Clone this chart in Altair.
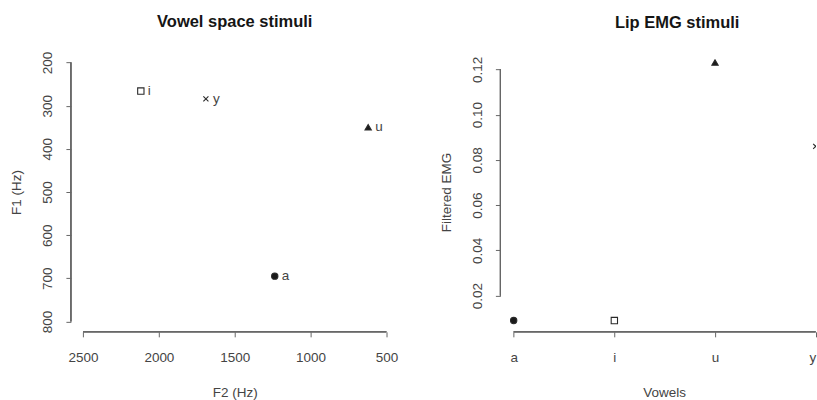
import altair as alt
import pandas as pd

# ---------------- data ----------------
vowels = ["a", "i", "u", "y"]
f2_hz = [1236, 2119, 620, 1690]
f1_hz = [695, 266, 350, 284]
filtered_emg = [0.009, 0.009, 0.123, 0.086]

f2_ticks = [2500, 2000, 1500, 1000, 500]
f1_ticks = [200, 300, 400, 500, 600, 700, 800]
emg_ticks = [0.02, 0.04, 0.06, 0.08, 0.10, 0.12]

marker_shapes = ["circle", "square", "triangle-up",
                 "M-0.8,-0.8L0.8,0.8M-0.8,0.8L0.8,-0.8"]
marker_fills = ["#1a1a1a", "transparent", "#1a1a1a", "transparent"]

df = pd.DataFrame({
    "vowel": vowels,
    "F2": f2_hz,
    "F1": f1_hz,
    "EMG": filtered_emg,
    "idx": list(range(1, len(vowels) + 1)),
})

# ---------------- style ----------------
FONT = "Liberation Sans"
TXT = "#444444"
AX = "#666666"
MK = "#2a2a2a"
W1, W2, H = 328, 316, 280

axis_common = dict(domain=False, grid=False, ticks=True, tickSize=5, tickColor=AX,
                   tickWidth=1, labelFont=FONT, labelFontSize=13.5, labelColor=TXT,
                   titleFont=FONT, titleFontSize=13.5, titleColor=TXT,
                   titleFontWeight="normal", labelOverlap=False)

shape_enc = alt.Shape("vowel:N", scale=alt.Scale(domain=vowels, range=marker_shapes), legend=None)
fill_enc = alt.Fill("vowel:N", scale=alt.Scale(domain=vowels, range=marker_fills), legend=None)

# ---------------- left panel ----------------
xs1 = alt.Scale(domain=[420, 2580], reverse=True, nice=False, zero=False)
ys1 = alt.Scale(domain=[176, 824], reverse=True, nice=False, zero=False)

x_axis1 = alt.Axis(values=f2_ticks, format="d", labelPadding=14, title="F2 (Hz)",
                   titleX=W1 / 2, titleY=61, titleBaseline="middle", titleAlign="center",
                   labelFlush=False, **axis_common)
y_axis1 = alt.Axis(values=f1_ticks, format="d", labelAngle=270, labelAlign="center",
                   labelBaseline="bottom", labelPadding=11, title="F1 (Hz)",
                   titleAngle=270, titleX=-54, titleY=H / 2, titleBaseline="middle",
                   titleAlign="center", labelFlush=False, **axis_common)

base1 = alt.Chart(df).encode(
    x=alt.X("F2:Q", scale=xs1, axis=x_axis1),
    y=alt.Y("F1:Q", scale=ys1, axis=y_axis1),
)
pts1 = base1.mark_point(size=40, strokeWidth=1.1, opacity=1, stroke=MK).encode(
    shape=shape_enc, fill=fill_enc)
lab1 = base1.mark_text(align="left", baseline="middle", dx=7, font=FONT,
                       fontSize=13.5, color=TXT).encode(text="vowel:N")
xrule1 = alt.Chart(df).mark_rule(color=AX, strokeWidth=1).encode(
    x=alt.datum(f2_ticks[0]), x2=alt.datum(f2_ticks[-1]), y=alt.value(H))
yrule1 = alt.Chart(df).mark_rule(color=AX, strokeWidth=1).encode(
    y=alt.datum(f1_ticks[0]), y2=alt.datum(f1_ticks[-1]), x=alt.value(0))

left = alt.layer(pts1, lab1, xrule1, yrule1).properties(
    width=W1, height=H,
    title=alt.TitleParams("Vowel space stimuli", font=FONT, fontSize=16.5,
                          fontWeight="bold", color="#151515", anchor="middle",
                          frame="group", offset=8, baseline="alphabetic"),
)

# ---------------- right panel ----------------
xs2 = alt.Scale(domain=[0.868, 4.003], nice=False, zero=False)
ys2 = alt.Scale(domain=[0.004, 0.1276], nice=False, zero=False)

label_expr = "[" + ",".join("'%s'" % v for v in vowels) + "][datum.value - 1]"
x_axis2 = alt.Axis(values=list(range(1, len(vowels) + 1)), labelExpr=label_expr,
                   labelPadding=14, title="Vowels", titleX=164, titleY=61,
                   titleBaseline="middle", titleAlign="center", labelFlush=True,
                   **axis_common)
y_axis2 = alt.Axis(values=emg_ticks, format=".2f", labelAngle=270, labelAlign="center",
                   labelBaseline="bottom", labelPadding=11, title="Filtered EMG",
                   titleAngle=270, titleX=-54, titleY=H / 2, titleBaseline="middle",
                   titleAlign="center", labelFlush=False, **axis_common)

base2 = alt.Chart(df).encode(
    x=alt.X("idx:Q", scale=xs2, axis=x_axis2),
    y=alt.Y("EMG:Q", scale=ys2, axis=y_axis2),
)
pts2 = base2.mark_point(size=40, strokeWidth=1.1, opacity=1, stroke=MK, clip=True).encode(
    shape=shape_enc, fill=fill_enc)
xrule2 = alt.Chart(df).mark_rule(color=AX, strokeWidth=1).encode(
    x=alt.datum(1), x2=alt.datum(len(vowels)), y=alt.value(H))
yrule2 = alt.Chart(df).mark_rule(color=AX, strokeWidth=1).encode(
    y=alt.datum(emg_ticks[0]), y2=alt.datum(emg_ticks[-1]), x=alt.value(0))

right = alt.layer(pts2, xrule2, yrule2).properties(
    width=W2, height=H,
    title=alt.TitleParams("Lip EMG stimuli", font=FONT, fontSize=16.5,
                          fontWeight="bold", color="#151515", anchor="middle",
                          frame="group", offset=8, baseline="alphabetic", dx=19),
)

chart = alt.hconcat(left, right, spacing=41).properties(
    padding={"left": 10, "top": 13, "right": 0, "bottom": 0},
    background="white",
).configure_view(stroke=None)

chart.save("out.html", embed_options={"renderer": "svg", "actions": False})
